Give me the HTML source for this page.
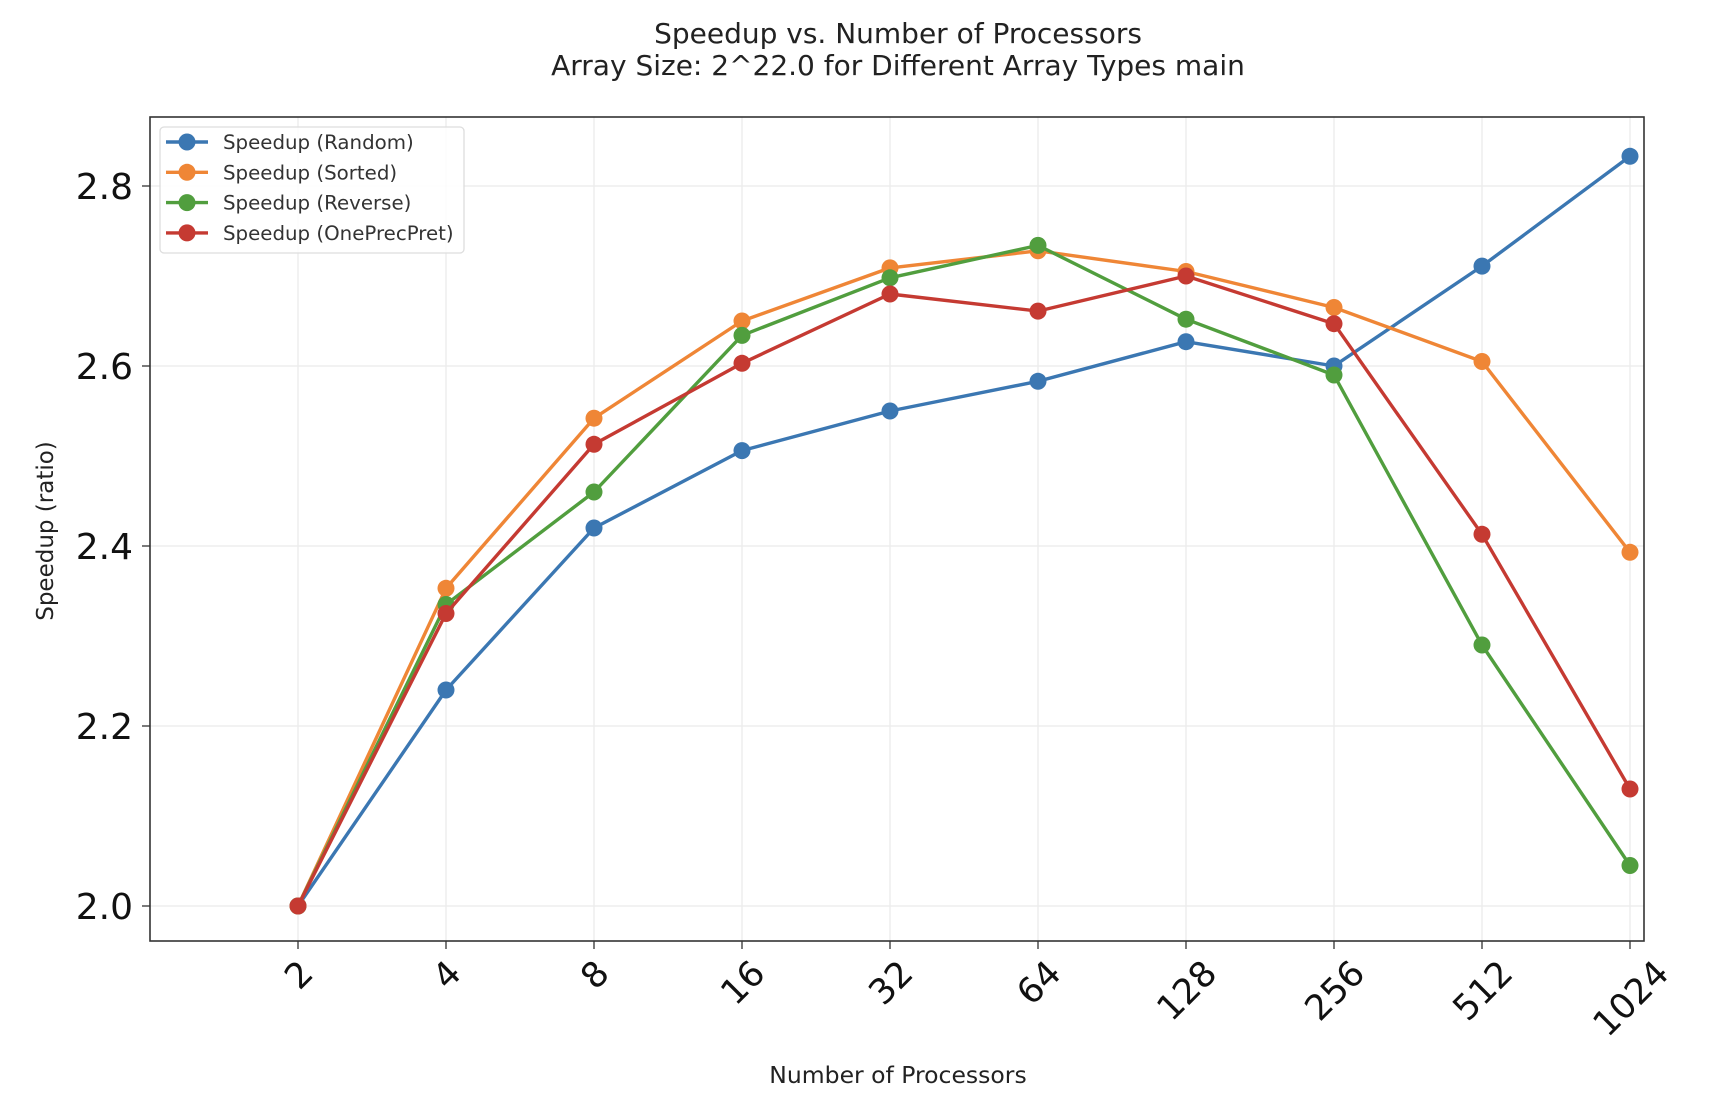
<!DOCTYPE html>
<html><head><meta charset="utf-8"><style>
html,body{margin:0;padding:0;background:#fff;}
svg{display:block;font-family:"DejaVu Sans","Liberation Sans",sans-serif;}
</style></head><body>
<svg id="chart" width="1716" height="1104" viewBox="0 0 1716 1104">
<text x="898" y="43" font-size="28" text-anchor="middle" fill="#222">Speedup vs. Number of Processors</text>
<text x="898" y="75" font-size="28" text-anchor="middle" fill="#222">Array Size: 2^22.0 for Different Array Types main</text>
<text x="898" y="1083" font-size="23.5" text-anchor="middle" fill="#222">Number of Processors</text>
<text transform="translate(53,531) rotate(-90)" font-size="23" text-anchor="middle" fill="#222">Speedup (ratio)</text>
<g id="grid"></g><g id="ticks"></g><g id="series"></g>
<rect x="150" y="117" width="1494" height="824" fill="none" stroke="#333" stroke-width="1.6"/>
<g id="legend"></g>
</svg>
<script>
const categories = ["2","4","8","16","32","64","128","256","512","1024"];
const seriesNames = ["Speedup (Random)","Speedup (Sorted)","Speedup (Reverse)","Speedup (OnePrecPret)"];
const randomVals = [2.0,2.24,2.42,2.506,2.55,2.583,2.627,2.60,2.711,2.833];
const sortedVals = [2.0,2.353,2.542,2.65,2.709,2.728,2.705,2.665,2.605,2.393];
const reverseVals = [2.0,2.335,2.46,2.634,2.698,2.734,2.652,2.59,2.29,2.045];
const onePrecVals = [2.0,2.325,2.513,2.603,2.68,2.661,2.70,2.647,2.413,2.13];
const yTicks = [2.0,2.2,2.4,2.6,2.8];
const colors = ["#3b77b2","#ef8636","#519e3e","#c53a32"];
const NS="http://www.w3.org/2000/svg";
const L=150,R=1644,T=117,B=941;
function xs(i){return 298+i*(1630-298)/(categories.length-1);}
function ys(v){return 906-(v-2.0)*(906-186)/0.8;}
function mk(tag,attrs,parent){const e=document.createElementNS(NS,tag);for(const k in attrs)e.setAttribute(k,attrs[k]);parent.appendChild(e);return e;}
const grid=document.getElementById('grid'),ticks=document.getElementById('ticks'),ser=document.getElementById('series'),leg=document.getElementById('legend');
categories.forEach((c,i)=>{
  const x=xs(i);
  const g=mk('line',{x1:x,x2:x,y1:T,y2:B,stroke:'#ebebeb','stroke-width':1.3},grid);
  
  
  const t=mk('line',{x1:x,x2:x,y1:B,y2:B+8,stroke:'#333','stroke-width':1.3},ticks);
  
  
  const lbl=mk('text',{'font-size':35,'text-anchor':'middle',fill:'#111'},ticks);
  lbl.textContent=c;
  
  
  const w=c.length*22.3,h=26;
  const bh=(w+h)*0.7071;
  const cy=957+bh/2;
  lbl.setAttribute('transform','translate('+x+','+cy+') rotate(-45)');
  lbl.setAttribute('dy','13');
});
yTicks.forEach(v=>{
  const y=ys(v);
  const g=mk('line',{x1:L,x2:R,y1:y,y2:y,stroke:'#ebebeb','stroke-width':1.3},grid);
  
  
  const t=mk('line',{x1:L-8,x2:L,y1:y,y2:y,stroke:'#333','stroke-width':1.3},ticks);
  
  
  const lbl=mk('text',{x:133,y:y+13,'font-size':36,'text-anchor':'end',fill:'#111'},ticks);
  lbl.textContent=v.toFixed(1);
  
  
});
const allSeries=[randomVals,sortedVals,reverseVals,onePrecVals];
const keys=['random','sorted','reverse','oneprecpret'];
allSeries.forEach((vals,s)=>{
  const grp=mk('g',{},ser);
  
  
  const pl=mk('polyline',{points:vals.map((v,i)=>xs(i)+','+ys(v)).join(' '),fill:'none',stroke:colors[s],'stroke-width':3.4,'stroke-linejoin':'round'},grp);
  
  
  vals.forEach((v,i)=>{
    const c=mk('circle',{cx:xs(i),cy:ys(v),r:8.5,fill:colors[s]},grp);
    
    
  });
});
const box=mk('rect',{x:160,y:127,width:304,height:126,rx:4,fill:'#fff','fill-opacity':0.85,stroke:'#ddd','stroke-width':1.3},leg);


seriesNames.forEach((n,s)=>{
  const y=142+s*30.3;
  const g=mk('g',{},leg);
  
  
  mk('line',{x1:166,x2:208,y1:y,y2:y,stroke:colors[s],'stroke-width':3.4},g);
  mk('circle',{cx:187,cy:y,r:8.5,fill:colors[s]},g);
  const t=mk('text',{x:223,y:y+7,'font-size':19.8,fill:'#333'},g);
  t.textContent=n;
});
</script>
</body></html>
